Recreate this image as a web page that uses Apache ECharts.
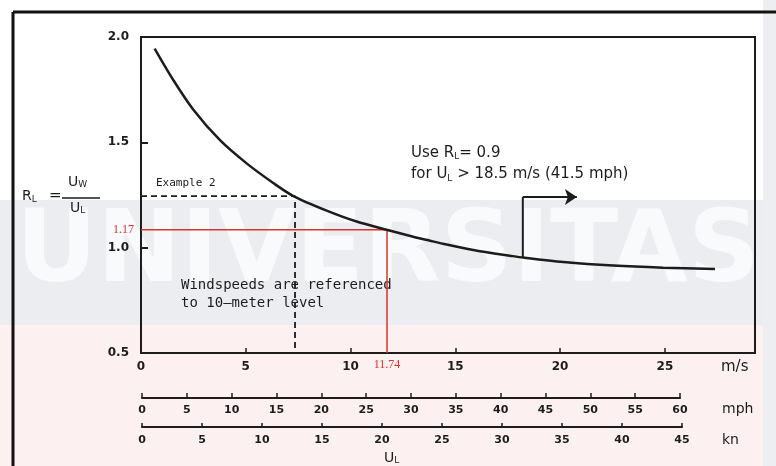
<!DOCTYPE html>
<html>
<head>
<meta charset="utf-8">
<script src="https://cdn.jsdelivr.net/npm/echarts@6/dist/echarts.min.js"></script>
<style>
html,body{margin:0;padding:0;background:#fff;}
#c{width:776px;height:466px;}
</style>
</head>
<body>
<div id="c"></div>
<script>
// ---- data ----
const curveX = [0.65, 1.54, 2.5, 3.77, 5.04, 6.31, 7.27, 8.86, 10.29, 11.72, 12.99, 13.79, 14.58, 16.17, 17.6, 18.24, 20.15, 22.53, 24.91, 27.39];
const curveY = [1.945, 1.796, 1.655, 1.510, 1.400, 1.307, 1.245, 1.176, 1.124, 1.085, 1.052, 1.033, 1.015, 0.983, 0.962, 0.953, 0.932, 0.915, 0.905, 0.899];
const exampleX = [0, 7.35, 7.35];
const exampleY = [1.245, 1.245, 0.5];
const redX = [0, 11.74, 11.74];
const redY = [1.085, 1.085, 0.5];
const redLabels = ['1.17', '11.74'];
const arrowX = [18.22, 18.22];
const arrowY = [0.952, 1.24];
const arrowEndX = 20.8;
const msTicks = [0, 5, 10, 15, 20, 25];
const msMax = 29.3;
const mphMax = 60;
const knMax = 45;
const yTicks = [0.5, 1.0, 1.5, 2.0];

const INK = '#1c1c1c';
const RED = '#d9342b';
const curve = curveX.map((x, i) => [x, curveY[i]]);
const example = exampleX.map((x, i) => [x, exampleY[i]]);
const red = redX.map((x, i) => {
  const item = { value: [x, redY[i]] };
  if (i === 0) item.label = { show: true, position: 'left', distance: 7, formatter: redLabels[0], color: RED, fontSize: 12, fontFamily: 'Liberation Serif' };
  if (i === 2) item.label = { show: true, position: 'bottom', distance: 6, formatter: redLabels[1], color: RED, fontSize: 12, fontFamily: 'Liberation Serif' };
  return item;
});
const arrow = arrowX.map((x, i) => [x, arrowY[i]]);

const lblFont = { color: INK, fontFamily: 'DejaVu Sans', fontSize: 12, fontWeight: 'bold' };

const chart = echarts.init(document.getElementById('c'), null, { renderer: 'canvas' });
chart.setOption({
  animation: false,
  backgroundColor: '#ffffff',
  grid: [
    { left: 141, top: 37, width: 614, height: 316, show: true, borderColor: INK, borderWidth: 2 },
    { left: 142, top: 397, width: 538, height: 1 },
    { left: 142, top: 426, width: 540, height: 1 }
  ],
  xAxis: [
    { gridIndex: 0, type: 'value', min: 0, max: msMax, interval: 5,
      axisLine: { lineStyle: { color: INK, width: 2 } },
      axisTick: { inside: true, length: 5, lineStyle: { color: INK, width: 1.5 } },
      axisLabel: Object.assign({ margin: 8, showMaxLabel: false,
        formatter: v => msTicks.indexOf(v) >= 0 ? String(v) : '' }, lblFont),
      splitLine: { show: false } },
    { gridIndex: 1, type: 'value', min: 0, max: mphMax, interval: 5,
      axisLine: { lineStyle: { color: INK, width: 2 } },
      axisTick: { inside: true, length: 5, lineStyle: { color: INK, width: 1.5 } },
      axisLabel: Object.assign({ margin: 7 }, lblFont, { fontSize: 11 }),
      splitLine: { show: false } },
    { gridIndex: 2, type: 'value', min: 0, max: knMax, interval: 5,
      axisLine: { lineStyle: { color: INK, width: 2 } },
      axisTick: { inside: true, length: 4, lineStyle: { color: INK, width: 1.5 } },
      axisLabel: Object.assign({ margin: 8 }, lblFont, { fontSize: 11 }),
      splitLine: { show: false } }
  ],
  yAxis: [
    { gridIndex: 0, type: 'value', min: 0.5, max: 2.0, interval: 0.5,
      axisLine: { show: true, lineStyle: { color: INK, width: 2 } },
      axisTick: { show: true, inside: true, length: 7, lineStyle: { color: INK, width: 2 } },
      axisLabel: Object.assign({ margin: 12, formatter: v => yTicks.indexOf(v) >= 0 ? v.toFixed(1) : '' }, lblFont),
      splitLine: { show: false } },
    { gridIndex: 1, type: 'value', show: false },
    { gridIndex: 2, type: 'value', show: false }
  ],
  graphic: [
    // scanned page background bands
    { type: 'rect', z: -100, shape: { x: 0, y: 200, width: 776, height: 125 }, style: { fill: '#ebedf1' }, silent: true },
    { type: 'rect', z: -100, shape: { x: 0, y: 325, width: 776, height: 141 }, style: { fill: '#fcf0f0' }, silent: true },
    { type: 'rect', z: -100, shape: { x: 763, y: 0, width: 13, height: 466 }, style: { fill: '#eceef2' }, silent: true },
    { type: 'text', z: -90, left: 16, top: 205, style: { text: 'UNIVERSITAS', fill: 'rgba(255,255,255,0.7)', font: 'bold 100px "DejaVu Sans"' }, silent: true },
    // outer frame
    { type: 'line', shape: { x1: 13, y1: 12, x2: 776, y2: 12 }, style: { stroke: '#111', lineWidth: 3 } },
    { type: 'line', shape: { x1: 13, y1: 12, x2: 13, y2: 466 }, style: { stroke: '#111', lineWidth: 3 } },
    // y-axis title  R_L = U_W / U_L
    { type: 'text', left: 22, top: 189, style: { text: '{a|R}{s|L}', rich: { a: { font: '14px "DejaVu Sans"', fill: INK }, s: { font: '9px "DejaVu Sans"', fill: INK, padding: [8, 0, 0, 0] } } } },
    { type: 'text', left: 49, top: 189, style: { text: '=', font: '15px "DejaVu Sans"', fill: INK } },
    { type: 'text', left: 68, top: 175, style: { text: '{a|U}{s|W}', rich: { a: { font: '14px "DejaVu Sans"', fill: INK }, s: { font: '9px "DejaVu Sans"', fill: INK, padding: [6, 0, 0, 0] } } } },
    { type: 'line', shape: { x1: 62, y1: 198, x2: 100, y2: 198 }, style: { stroke: INK, lineWidth: 1.5 } },
    { type: 'text', left: 70, top: 201, style: { text: '{a|U}{s|L}', rich: { a: { font: '14px "DejaVu Sans"', fill: INK }, s: { font: '9px "DejaVu Sans"', fill: INK, padding: [6, 0, 0, 0] } } } },
    // annotations
    { type: 'text', left: 156, top: 178, style: { text: 'Example 2', font: '11px "DejaVu Sans Mono"', fill: INK } },
    { type: 'text', left: 181, top: 278, style: { text: 'Windspeeds are referenced', font: '14px "DejaVu Sans Mono"', fill: INK } },
    { type: 'text', left: 181, top: 296, style: { text: 'to 10\u2014meter level', font: '14px "DejaVu Sans Mono"', fill: INK } },
    { type: 'text', left: 411, top: 146, style: { text: 'Use {a|R}{s|L}{a|= 0.9}', rich: { a: { font: '15px "DejaVu Sans"', fill: INK }, s: { font: '9px "DejaVu Sans"', fill: INK, padding: [6, 0, 0, 0] } }, font: '15px "DejaVu Sans"', fill: INK } },
    { type: 'text', left: 411, top: 167, style: { text: 'for {a|U}{s|L}{a| > 18.5 m/s (41.5 mph)}', rich: { a: { font: '15px "DejaVu Sans"', fill: INK }, s: { font: '9px "DejaVu Sans"', fill: INK, padding: [8, 0, 0, 0] } }, font: '15px "DejaVu Sans"', fill: INK } },
    { type: 'text', left: 721, top: 360, style: { text: 'm/s', font: '15px "DejaVu Sans"', fill: INK } },
    { type: 'text', left: 722, top: 402, style: { text: 'mph', font: '14px "DejaVu Sans"', fill: INK } },
    { type: 'text', left: 722, top: 433, style: { text: 'kn', font: '14px "DejaVu Sans"', fill: INK } },
    { type: 'text', left: 384, top: 451, style: { text: '{a|U}{s|L}', rich: { a: { font: '14px "DejaVu Sans"', fill: INK }, s: { font: '9px "DejaVu Sans"', fill: INK, padding: [6, 0, 0, 0] } } } }
  ],
  series: [
    { type: 'line', xAxisIndex: 0, yAxisIndex: 0, data: curve, smooth: 0.3, showSymbol: false,
      lineStyle: { color: INK, width: 2.5 }, z: 5 },
    { type: 'line', xAxisIndex: 0, yAxisIndex: 0, data: example, showSymbol: false,
      lineStyle: { color: INK, width: 1.8, type: [6, 4] }, z: 4 },
    { type: 'line', xAxisIndex: 0, yAxisIndex: 0, data: red, symbol: 'circle', symbolSize: 0.1, showSymbol: true,
      lineStyle: { color: RED, width: 1.5 }, itemStyle: { color: RED }, z: 4 },
    { type: 'line', xAxisIndex: 0, yAxisIndex: 0, data: arrow, showSymbol: false,
      lineStyle: { color: INK, width: 2 }, z: 4,
      markLine: { silent: true, symbol: ['none', 'arrow'], symbolSize: 12,
        lineStyle: { color: INK, width: 2, type: 'solid' }, label: { show: false },
        data: [[{ coord: [arrowX[1], arrowY[1]] }, { coord: [arrowEndX, arrowY[1]] }]] } }
  ]
});
</script>
</body>
</html>
